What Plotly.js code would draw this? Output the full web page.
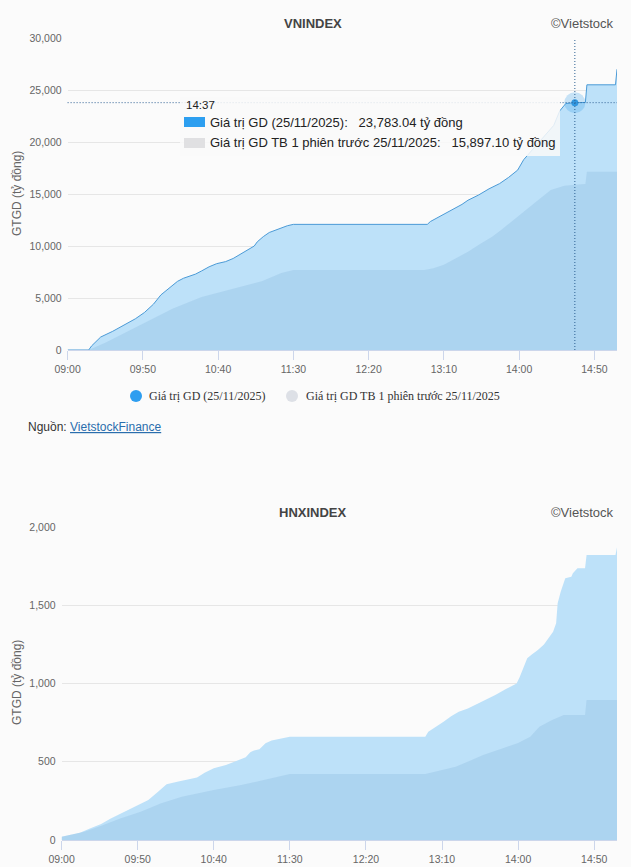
<!DOCTYPE html>
<html>
<head>
<meta charset="utf-8">
<script src="https://cdn.plot.ly/plotly-3.0.1.min.js"></script>
<style>
  html, body { margin: 0; padding: 0; background: #fbfbfb; }
  #chart { width: 631px; height: 867px; }
</style>
</head>
<body>
<div id="chart"></div>
<script>
// Session date and series labels
const sessionDate = '2025-11-25';
const seriesToday = 'Giá trị GD (25/11/2025)';
const seriesPrev = 'Giá trị GD TB 1 phiên trước 25/11/2025';
const unitLabel = 'tỷ đồng';
const yAxisLabel = 'GTGD (tỷ đồng)';
const indexNames = ['VNINDEX', 'HNXINDEX'];
const hoverTime = '14:37';

// VNINDEX – cumulative traded value today (tỷ đồng)
const vnTodayTimes = ['09:00','09:14','09:16','09:18','09:22','09:30','09:38','09:45','09:51','09:57','10:02','10:08','10:13','10:17','10:21','10:25','10:29','10:34','10:39','10:45','10:50','10:57','11:04','11:06','11:10','11:14','11:20','11:26','11:30','12:59','13:01','13:08','13:17','13:22','13:26','13:33','13:40','13:47','13:53','13:59','14:03','14:08','14:12','14:17','14:23','14:27','14:31','14:37','14:44','14:45','15:04','15:05'];
const vnTodayValues = [0,0,400,700,1250,1800,2400,3000,3600,4400,5300,6000,6600,6900,7100,7300,7600,8000,8300,8500,8800,9400,10000,10400,10900,11300,11650,11950,12080,12080,12350,12900,13600,14000,14400,14900,15500,16000,16600,17300,18300,19100,19800,20600,21600,23000,23700,23783.04,23800,25500,25500,27000];

// VNINDEX – previous session average (tỷ đồng)
const vnPrevTimes = ['09:00','09:14','09:25','09:40','09:55','10:10','10:29','10:53','11:09','11:22','11:30','12:57','13:03','13:10','13:18','13:26','13:34','13:42','13:48','14:00','14:10','14:21','14:30','14:37','14:44','14:45','15:05'];
const vnPrevValues = [0,0,700,1800,2900,4000,5100,6000,6600,7400,7690,7690,7850,8200,8800,9450,10200,10900,11540,12900,14100,15380,15800,15897.10,15950,17140,17140];

// HNXINDEX – cumulative traded value today (tỷ đồng)
const hnxTodayTimes = ['09:00','09:05','09:12','09:19','09:26','09:32','09:39','09:45','09:51','09:57','10:03','10:09','10:16','10:23','10:29','10:34','10:40','10:48','10:55','11:01','11:04','11:06','11:10','11:14','11:18','11:22','11:26','11:30','12:59','13:01','13:06','13:11','13:16','13:21','13:27','13:32','13:38','13:45','13:52','13:59','14:01','14:03','14:06','14:09','14:13','14:17','14:21','14:23','14:25','14:26','14:28','14:31','14:35','14:36','14:39','14:44','14:45','15:04','15:05'];
const hnxTodayValues = [20,30,47,75,102,135,170,200,228,256,305,356,373,385,400,430,458,479,505,528,560,571,580,618,635,645,652,660,660,692,722,756,790,820,840,863,893,927,965,1000,1040,1086,1161,1185,1214,1250,1299,1330,1385,1512,1587,1672,1682,1704,1736,1736,1821,1821,1870];

// HNXINDEX – previous session average (tỷ đồng)
const hnxPrevTimes = ['09:00','09:08','09:15','09:27','09:39','09:52','10:05','10:19','10:40','10:58','11:12','11:25','11:30','12:59','13:10','13:19','13:28','13:37','13:50','14:00','14:08','14:14','14:22','14:30','14:44','14:45','15:05'];
const hnxPrevValues = [20,35,53,95,139,181,234,277,320,351,383,415,422,422,445,468,505,543,586,620,660,724,765,799,799,895,895];

// Axis ranges and ticks
const sessionStart = '09:00';
const sessionEnd = '15:05';
const tickStepMinutes = 50;
const vnRange = [0, 30000];
const vnStep = 5000;
const hnxRange = [0, 2000];
const hnxStep = 500;

// ---------- helpers ----------
const W = 631, H = 867;
const px = p => p / W;          // pixel x -> paper
const py = p => 1 - p / H;      // pixel y -> paper
const ts = t => sessionDate + ' ' + t;
const FONT = 'Liberation Sans, Arial, sans-serif';
const SERIF = 'Liberation Serif, Times New Roman, serif';

const todayFill = 'rgb(189,225,249)';
const prevFill = 'rgba(140,185,222,0.33)';
const lineBlue = '#4b9ad6';
const swatchBlue = '#2d9ff0';
const swatchGrey = '#e0e0e2';

const fmt = v => v.toLocaleString('en-US', {minimumFractionDigits: 2, maximumFractionDigits: 2});

const hoverIdxToday = vnTodayTimes.indexOf(hoverTime);
const hoverIdxPrev = vnPrevTimes.indexOf(hoverTime);
const hoverToday = vnTodayValues[hoverIdxToday];
const hoverPrev = vnPrevValues[hoverIdxPrev];

function area(times, values, xa, ya, fill, lineWidth, lineColor) {
  return {
    type: 'scatter', mode: 'lines',
    x: times.map(ts), y: values,
    xaxis: xa, yaxis: ya,
    fill: 'tozeroy', fillcolor: fill,
    line: {width: lineWidth, color: lineColor || fill, shape: 'linear'},
    hoverinfo: 'skip', showlegend: false
  };
}

const traces = [
  area(vnTodayTimes, vnTodayValues, 'x', 'y', todayFill, 1, lineBlue),
  area(vnPrevTimes, vnPrevValues, 'x', 'y', prevFill, 0),
  area(hnxTodayTimes, hnxTodayValues, 'x2', 'y2', todayFill, 0),
  area(hnxPrevTimes, hnxPrevValues, 'x2', 'y2', prevFill, 0),
  // hovered point: halo + dot
  {type: 'scatter', mode: 'markers', x: [ts(hoverTime)], y: [hoverToday], xaxis: 'x', yaxis: 'y',
   marker: {size: 21, color: 'rgba(60,160,235,0.28)'}, hoverinfo: 'skip', showlegend: false},
  {type: 'scatter', mode: 'markers', x: [ts(hoverTime)], y: [hoverToday], xaxis: 'x', yaxis: 'y',
   marker: {size: 7, color: '#3197e0'}, hoverinfo: 'skip', showlegend: false}
];

function xAxis(domain, anchor) {
  return {
    domain: domain, anchor: anchor, type: 'date',
    range: [ts(sessionStart), ts(sessionEnd)],
    tick0: ts(sessionStart), dtick: tickStepMinutes * 60000, tickformat: '%H:%M',
    ticks: 'outside', ticklen: 9, tickcolor: '#ccd6eb', tickwidth: 1,
    showline: true, linecolor: '#ccd6eb', linewidth: 1,
    showgrid: false, zeroline: false,
    tickfont: {family: FONT, size: 10.5, color: '#666'},
    fixedrange: true
  };
}
function yAxis(domain, anchor, range, step) {
  return {
    domain: domain, anchor: anchor, range: range, dtick: step, tick0: 0,
    tickformat: ',d', showgrid: true, gridcolor: '#e6e6e6', gridwidth: 1,
    zeroline: false, showline: false, ticks: '',
    ticklabelstandoff: 5,
    tickfont: {family: FONT, size: 10.5, color: '#666'},
    fixedrange: true
  };
}

function label(text, x, y, opts) {
  return Object.assign({
    text: text, x: px(x), y: py(y), xref: 'paper', yref: 'paper',
    showarrow: false, xanchor: 'left', yanchor: 'middle',
    font: {family: FONT, size: 12, color: '#333'}
  }, opts || {});
}

const annotations = [
  // titles
  label('<b>' + indexNames[0] + '</b>', 313, 23, {xanchor: 'center', font: {family: FONT, size: 13, color: '#444'}}),
  label('©Vietstock', 616, 23, {xanchor: 'right', font: {family: FONT, size: 13, color: '#555'}}),
  label('<b>' + indexNames[1] + '</b>', 313, 512, {xanchor: 'center', font: {family: FONT, size: 13, color: '#444'}}),
  label('©Vietstock', 616, 512, {xanchor: 'right', font: {family: FONT, size: 13, color: '#555'}}),
  // y-axis titles
  label(yAxisLabel, 17, 194, {xanchor: 'center', textangle: -90, font: {family: FONT, size: 12, color: '#666'}}),
  label(yAxisLabel, 17, 683, {xanchor: 'center', textangle: -90, font: {family: FONT, size: 12, color: '#666'}}),
  // legend
  label(seriesToday, 147, 396, {font: {family: SERIF, size: 12, color: '#333'}}),
  label(seriesPrev, 304, 396, {font: {family: SERIF, size: 12, color: '#333'}}),
  // source
  label('Nguồn: <span style="color:#2a6ead;text-decoration:underline">VietstockFinance</span>', 26, 427, {font: {family: FONT, size: 12, color: '#333'}}),
  // tooltip
  label(hoverTime, 184, 105, {font: {family: FONT, size: 11.5, color: '#222'}}),
  label(seriesToday + ':\u00a0\u00a0 ' + fmt(hoverToday) + ' ' + unitLabel, 208, 122, {font: {family: FONT, size: 13, color: '#222'}}),
  label(seriesPrev + ':\u00a0\u00a0 ' + fmt(hoverPrev) + ' ' + unitLabel, 208, 142, {font: {family: FONT, size: 13, color: '#222'}})
];

const shapes = [
  // crosshair at the hovered point
  {type: 'line', xref: 'x', yref: 'y domain', x0: ts(hoverTime), x1: ts(hoverTime), y0: 0, y1: 1,
   line: {color: '#2c5f92', width: 1, dash: '1px,2px'}},
  {type: 'line', xref: 'x domain', yref: 'y', x0: 0, x1: 1, y0: hoverToday, y1: hoverToday,
   line: {color: '#2c5f92', width: 1, dash: '1px,2px'}},
  // tooltip panel
  {type: 'rect', xref: 'paper', yref: 'paper', x0: px(180), x1: px(560), y0: py(156), y1: py(97),
   fillcolor: 'rgba(249,249,249,0.86)', line: {width: 0}},
  {type: 'rect', xref: 'paper', yref: 'paper', x0: px(184), x1: px(205), y0: py(127), y1: py(117),
   fillcolor: swatchBlue, line: {width: 0}},
  {type: 'rect', xref: 'paper', yref: 'paper', x0: px(184), x1: px(205), y0: py(148), y1: py(138),
   fillcolor: swatchGrey, line: {width: 0}},
  // legend symbols
  {type: 'circle', xref: 'paper', yref: 'paper', x0: px(130), x1: px(142), y0: py(402), y1: py(390),
   fillcolor: '#2e9ef0', line: {width: 0}},
  {type: 'circle', xref: 'paper', yref: 'paper', x0: px(286), x1: px(298), y0: py(402), y1: py(390),
   fillcolor: '#dde0e6', line: {width: 0}}
];

const layout = {
  width: W, height: H,
  margin: {l: 0, r: 0, t: 0, b: 0},
  paper_bgcolor: '#fbfbfb', plot_bgcolor: '#fbfbfb',
  showlegend: false,
  xaxis: xAxis([px(67.6), px(617)], 'y'),
  yaxis: yAxis([py(350), py(38)], 'x', vnRange, vnStep),
  xaxis2: xAxis([px(61.6), px(617)], 'y2'),
  yaxis2: yAxis([py(840), py(527)], 'x2', hnxRange, hnxStep),
  annotations: annotations,
  shapes: shapes
};

Plotly.newPlot('chart', traces, layout, {staticPlot: true, displayModeBar: false});
</script>
</body>
</html>
